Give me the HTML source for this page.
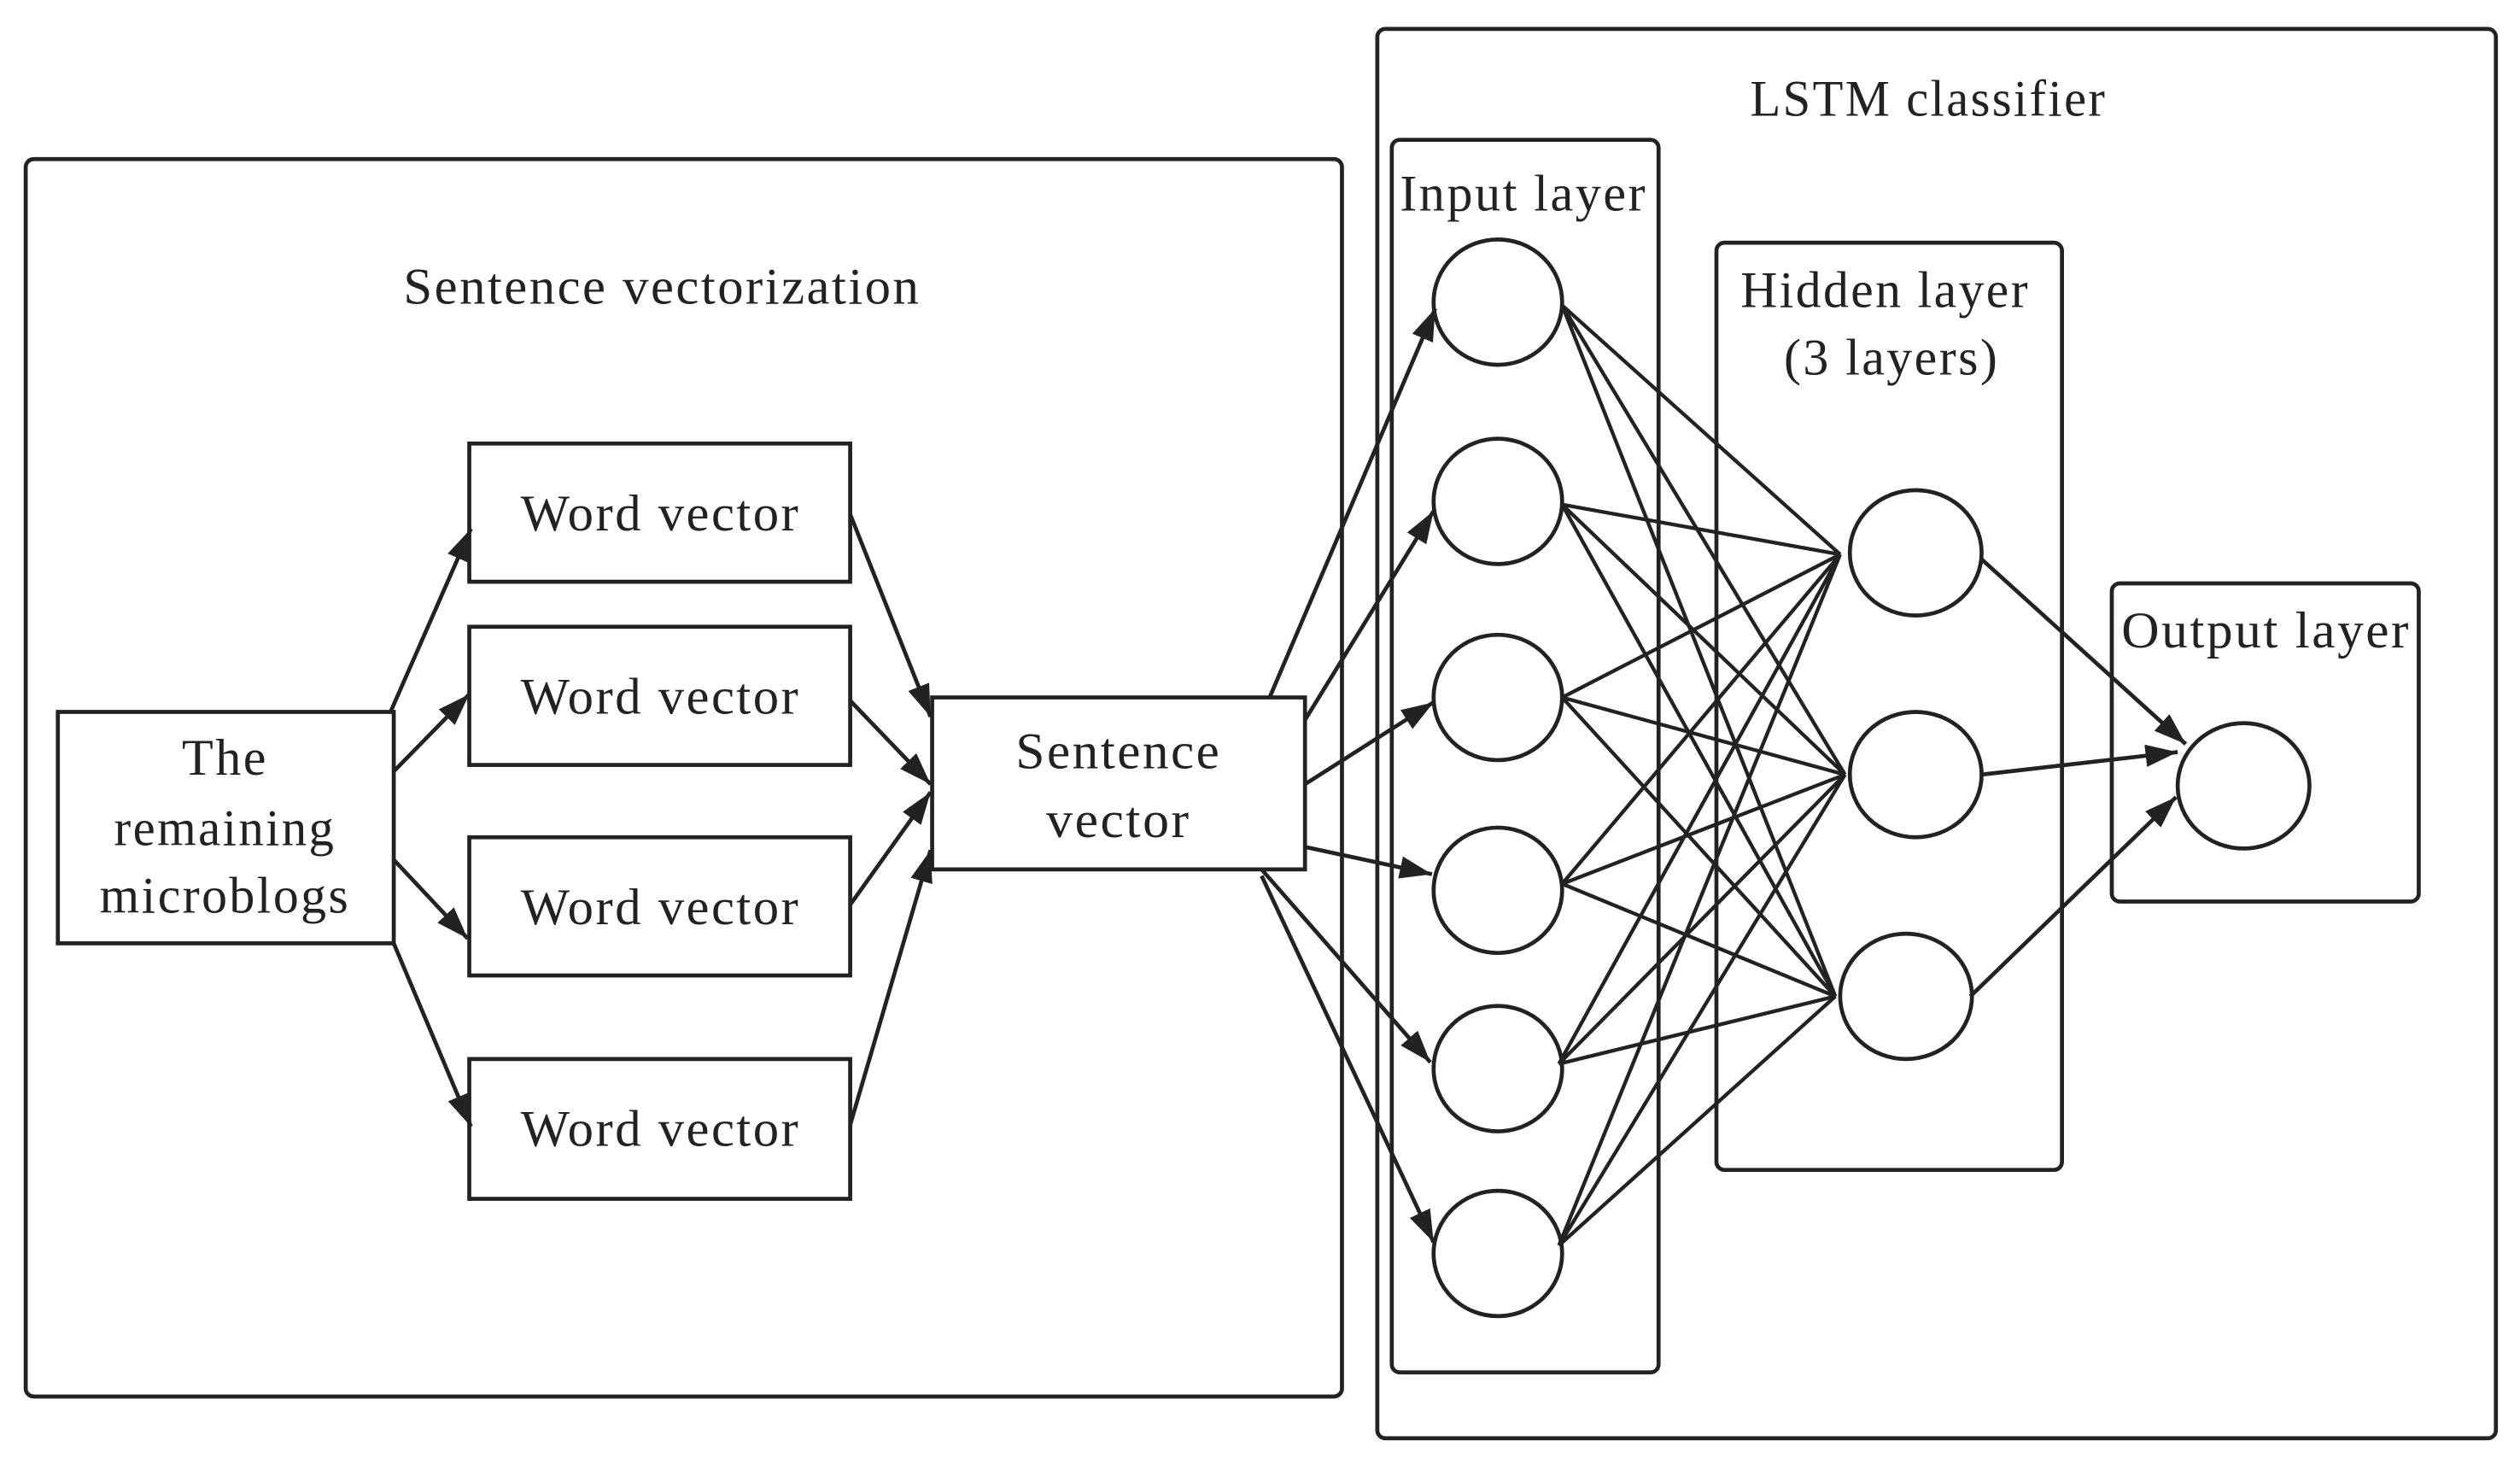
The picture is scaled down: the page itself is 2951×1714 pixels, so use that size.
<!DOCTYPE html>
<html><head><meta charset="utf-8"><style>html,body{margin:0;padding:0;background:#fff}svg{display:block}</style></head>
<body>
<svg width="2951" height="1714" viewBox="0 0 1568 911" preserveAspectRatio="none" xmlns="http://www.w3.org/2000/svg">
<defs>
<marker id="b" viewBox="0 0 20 14" refX="20" refY="7" markerWidth="20" markerHeight="14" markerUnits="userSpaceOnUse" orient="auto"><path d="M0,0L20,7L0,14z" fill="#222"/></marker></defs>
<g fill="none" stroke="#222" stroke-width="2.5">
<rect x="16" y="99" width="819" height="770" rx="5"/>
<rect x="857" y="18" width="696" height="877" rx="5"/>
<rect x="866" y="87" width="166" height="767" rx="5"/>
<rect x="1068" y="151" width="215" height="577" rx="5"/>
<rect x="1314" y="363" width="191" height="198" rx="5"/>
<rect x="36" y="443" width="209" height="144"/>
<rect x="292" y="276" width="237" height="86"/>
<rect x="292" y="390" width="237" height="86"/>
<rect x="292" y="521" width="237" height="86"/>
<rect x="292" y="659" width="237" height="87"/>
<rect x="580" y="434" width="232" height="107"/>
<ellipse cx="932" cy="188" rx="40" ry="39"/><ellipse cx="932" cy="312" rx="40" ry="39"/><ellipse cx="932" cy="434" rx="40" ry="39"/><ellipse cx="932" cy="554" rx="40" ry="39"/><ellipse cx="932" cy="665" rx="40" ry="39"/><ellipse cx="932" cy="780" rx="40" ry="39"/>
<ellipse cx="1192" cy="344" rx="41" ry="39"/><ellipse cx="1192" cy="482" rx="41" ry="39"/><ellipse cx="1186" cy="620" rx="41" ry="39"/>
<ellipse cx="1396" cy="489" rx="41" ry="39"/>
<g marker-end="url(#b)">
<line x1="243" y1="443" x2="293" y2="329"/><line x1="245" y1="480" x2="292" y2="432"/><line x1="245" y1="535" x2="291" y2="584"/><line x1="245" y1="587" x2="293" y2="701"/>
<line x1="529" y1="320" x2="579" y2="446"/><line x1="529" y1="436" x2="579" y2="488"/><line x1="529" y1="563" x2="579" y2="493"/><line x1="529" y1="700" x2="579" y2="529"/>
<line x1="790" y1="434" x2="893" y2="192"/><line x1="812" y1="448" x2="892" y2="318"/><line x1="812" y1="488" x2="892" y2="437"/><line x1="812" y1="527" x2="891" y2="544"/><line x1="785" y1="541" x2="890" y2="661"/><line x1="785" y1="545" x2="892" y2="773"/>
<line x1="1233" y1="348" x2="1360" y2="463"/><line x1="1233" y1="482" x2="1355" y2="468"/><line x1="1226" y1="620" x2="1354" y2="496"/>
</g>
<g stroke-width="2.3">
<path d="M972,190L1145,345M972,190L1148,482M972,190L1142,620"/>
<path d="M972,314L1145,345M972,314L1148,482M972,314L1142,620"/>
<path d="M972,434L1145,345M972,434L1148,482M972,434L1142,620"/>
<path d="M972,550L1145,345M972,550L1148,482M972,550L1142,620"/>
<path d="M970,662L1145,345M970,662L1148,482M970,662L1142,620"/>
<path d="M970,775L1145,345M970,775L1148,482M970,775L1142,620"/>
</g>
</g>
<g font-family="Liberation Serif, serif" font-size="32" letter-spacing="1.3" fill="#222" text-anchor="middle">
<text x="412" y="189" textLength="322" lengthAdjust="spacingAndGlyphs">Sentence vectorization</text>
<text x="1200" y="72" textLength="222" lengthAdjust="spacingAndGlyphs">LSTM classifier</text>
<text x="948" y="131" textLength="154" lengthAdjust="spacingAndGlyphs">Input layer</text>
<text x="1173" y="191" textLength="180" lengthAdjust="spacingAndGlyphs">Hidden layer</text>
<text x="1177" y="233" textLength="134" lengthAdjust="spacingAndGlyphs">(3 layers)</text>
<text x="1410" y="403" textLength="180" lengthAdjust="spacingAndGlyphs">Output layer</text>
<text x="140" y="482">The</text><text x="140" y="526" textLength="138" lengthAdjust="spacingAndGlyphs">remaining</text><text x="140" y="568" textLength="156" lengthAdjust="spacingAndGlyphs">microblogs</text>
<text x="411" y="330" textLength="174" lengthAdjust="spacingAndGlyphs">Word vector</text><text x="411" y="444" textLength="174" lengthAdjust="spacingAndGlyphs">Word vector</text><text x="411" y="575" textLength="174" lengthAdjust="spacingAndGlyphs">Word vector</text><text x="411" y="713" textLength="174" lengthAdjust="spacingAndGlyphs">Word vector</text>
<text x="696" y="478" textLength="128" lengthAdjust="spacingAndGlyphs">Sentence</text><text x="696" y="521" textLength="90" lengthAdjust="spacingAndGlyphs">vector</text>
</g>
</svg>
</body></html>
